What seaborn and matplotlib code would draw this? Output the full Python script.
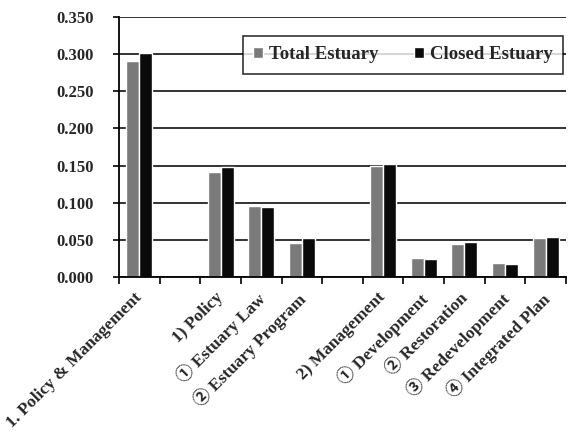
import matplotlib
matplotlib.use("Agg")
import matplotlib.pyplot as plt
import matplotlib.transforms as mtransforms
import seaborn as sns
import pandas as pd
import numpy as np

# data
categories = ["1. Policy & Management", " ", "1) Policy", "① Estuary Law",
              "② Estuary Program", "  ", "2) Management", "① Development",
              "② Restoration", "③ Redevelopment", "④ Integrated Plan"]
total_estuary = [0.291, 0.0, 0.141, 0.095, 0.046, 0.0, 0.150, 0.026, 0.045, 0.019, 0.053]
closed_estuary = [0.301, 0.0, 0.148, 0.094, 0.052, 0.0, 0.152, 0.024, 0.047, 0.018, 0.054]
series = ["Total Estuary", "Closed Estuary"]
yticks = [0.0, 0.05, 0.10, 0.15, 0.20, 0.25, 0.30, 0.35]

df = pd.DataFrame({
    "category": categories * 2,
    "series": [series[0]] * len(categories) + [series[1]] * len(categories),
    "value": total_estuary + closed_estuary,
})

sns.set_style("white")
fonts = ["Liberation Serif", "Noto Sans CJK JP", "DejaVu Sans"]
plt.rcParams["font.family"] = fonts
plt.rcParams["font.weight"] = "bold"

fig = plt.figure(figsize=(5.75, 4.32), dpi=100)
ax = fig.add_axes([119 / 575, 1 - 277 / 432, 447 / 575, 260 / 432])

sns.barplot(data=df, x="category", y="value", hue="series", order=categories,
            hue_order=series, palette=["#7a7a7a", "#0a0a0a"], width=0.64,
            saturation=1, ax=ax, errorbar=None)

ax.set_ylim(0, 0.35)
ax.set_xlim(-0.5, len(categories) - 0.5)
ax.set_yticks(yticks)
ax.set_yticklabels([f"{v:.3f}" for v in yticks], fontsize=12, fontweight="bold")
ax.yaxis.grid(True, color="#222222", linewidth=1.3)
ax.set_axisbelow(True)
ax.set_xlabel("")
ax.set_ylabel("")

ax.set_xticks(range(len(categories)))
ax.set_xticklabels(categories, rotation=45, ha="right", rotation_mode="anchor",
                   fontsize=12.5, fontweight="bold")
ax.tick_params(axis="x", which="major", length=0, pad=9)
# nudge the rotated labels a little to the left, as in the reference
shift = mtransforms.ScaledTranslation(-4 / 72, 0, fig.dpi_scale_trans)
for lbl in ax.get_xticklabels():
    lbl.set_transform(lbl.get_transform() + shift)
ax.set_xticks(np.arange(-0.5, len(categories), 1.0), minor=True)
ax.tick_params(axis="x", which="minor", length=5, width=1.2, color="black",
               direction="out", bottom=True)
ax.tick_params(axis="y", length=4, width=1.2, color="black", left=True,
               direction="out", pad=14)

for side in ["top", "right"]:
    ax.spines[side].set_visible(False)
for side in ["left", "bottom"]:
    ax.spines[side].set_color("black")
    ax.spines[side].set_linewidth(1.3)

leg = ax.legend(loc="upper right", bbox_to_anchor=(0.993, 0.927), ncol=2,
                frameon=True, fancybox=False, handlelength=0.55, handleheight=0.55,
                handletextpad=0.3, columnspacing=1.9, borderpad=0.55,
                borderaxespad=0,
                prop={"family": fonts, "weight": "bold", "size": 13.5})
leg.get_frame().set_edgecolor("black")
leg.get_frame().set_linewidth(1.2)

fig.savefig("out.png", dpi=100)
